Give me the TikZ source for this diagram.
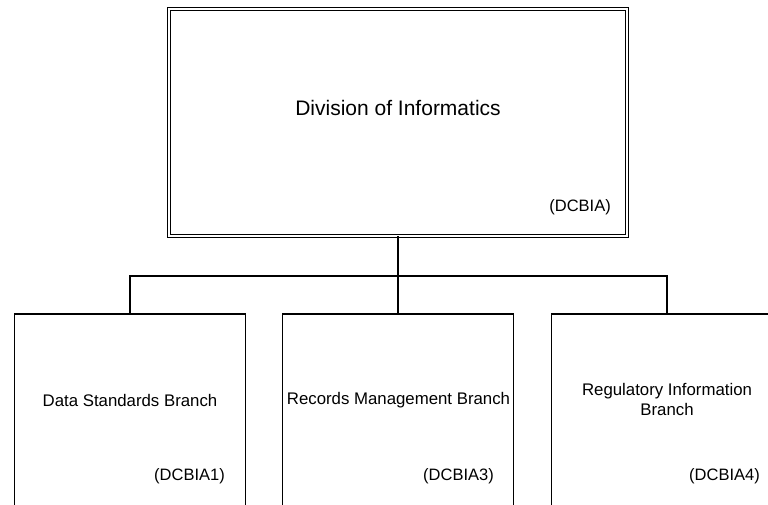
\documentclass[tikz,border=0pt]{standalone}
\usepackage{fontspec}
\setmainfont{Liberation Sans}
\begin{document}
\begin{tikzpicture}[x=1pt,y=-1pt,
  line/.style={draw=black,line width=1.6pt},
  topbox/.style={draw=black,line width=1.5pt,double=white,double distance=1.8pt,
    rectangle,minimum width=458pt,minimum height=227pt,inner sep=0pt,outer sep=0pt},
  branchbox/.style={line,rectangle,minimum width=231pt,minimum height=192pt,inner sep=0pt,outer sep=0pt},
  titletext/.style={inner sep=0pt,font=\fontsize{21}{24}\selectfont},
  branchtext/.style={inner sep=0pt,align=center,font=\fontsize{16.8}{20}\selectfont},
  codetext/.style={inner sep=0pt,anchor=east,font=\fontsize{16.5}{20}\selectfont}]
\useasboundingbox (0,0) rectangle (768,504);
\clip (0,0) rectangle (768,504);
\node[topbox] (top) at (398,122.5) {};
\node[branchbox] (b1) at (130,410) {};
\node[branchbox] (b2) at (398,410) {};
\node[branchbox] (b3) at (667,410) {};
\coordinate (j) at (398,276);
\draw[line] (top.south) -- (j);
\draw[line] (b1.north) |- (j);
\draw[line] (b3.north) |- (j);
\draw[line] (b2.north) -- (j);
\node[titletext] (title) at (398,108) {Division of Informatics};
\node[codetext] (c0) at (611,207.5) {(DCBIA)};
\node[branchtext] (t1) at (130,400) {Data Standards Branch};
\node[branchtext] (t2) at (398.5,400) {Records Management Branch};
\node[branchtext] (t3) at (667,399) {Regulatory Information\\Branch};
\node[codetext] (c1) at (225,476) {(DCBIA1)};
\node[codetext] (c2) at (494,476) {(DCBIA3)};
\node[codetext] (c3) at (760,476) {(DCBIA4)};
\end{tikzpicture}
\end{document}
